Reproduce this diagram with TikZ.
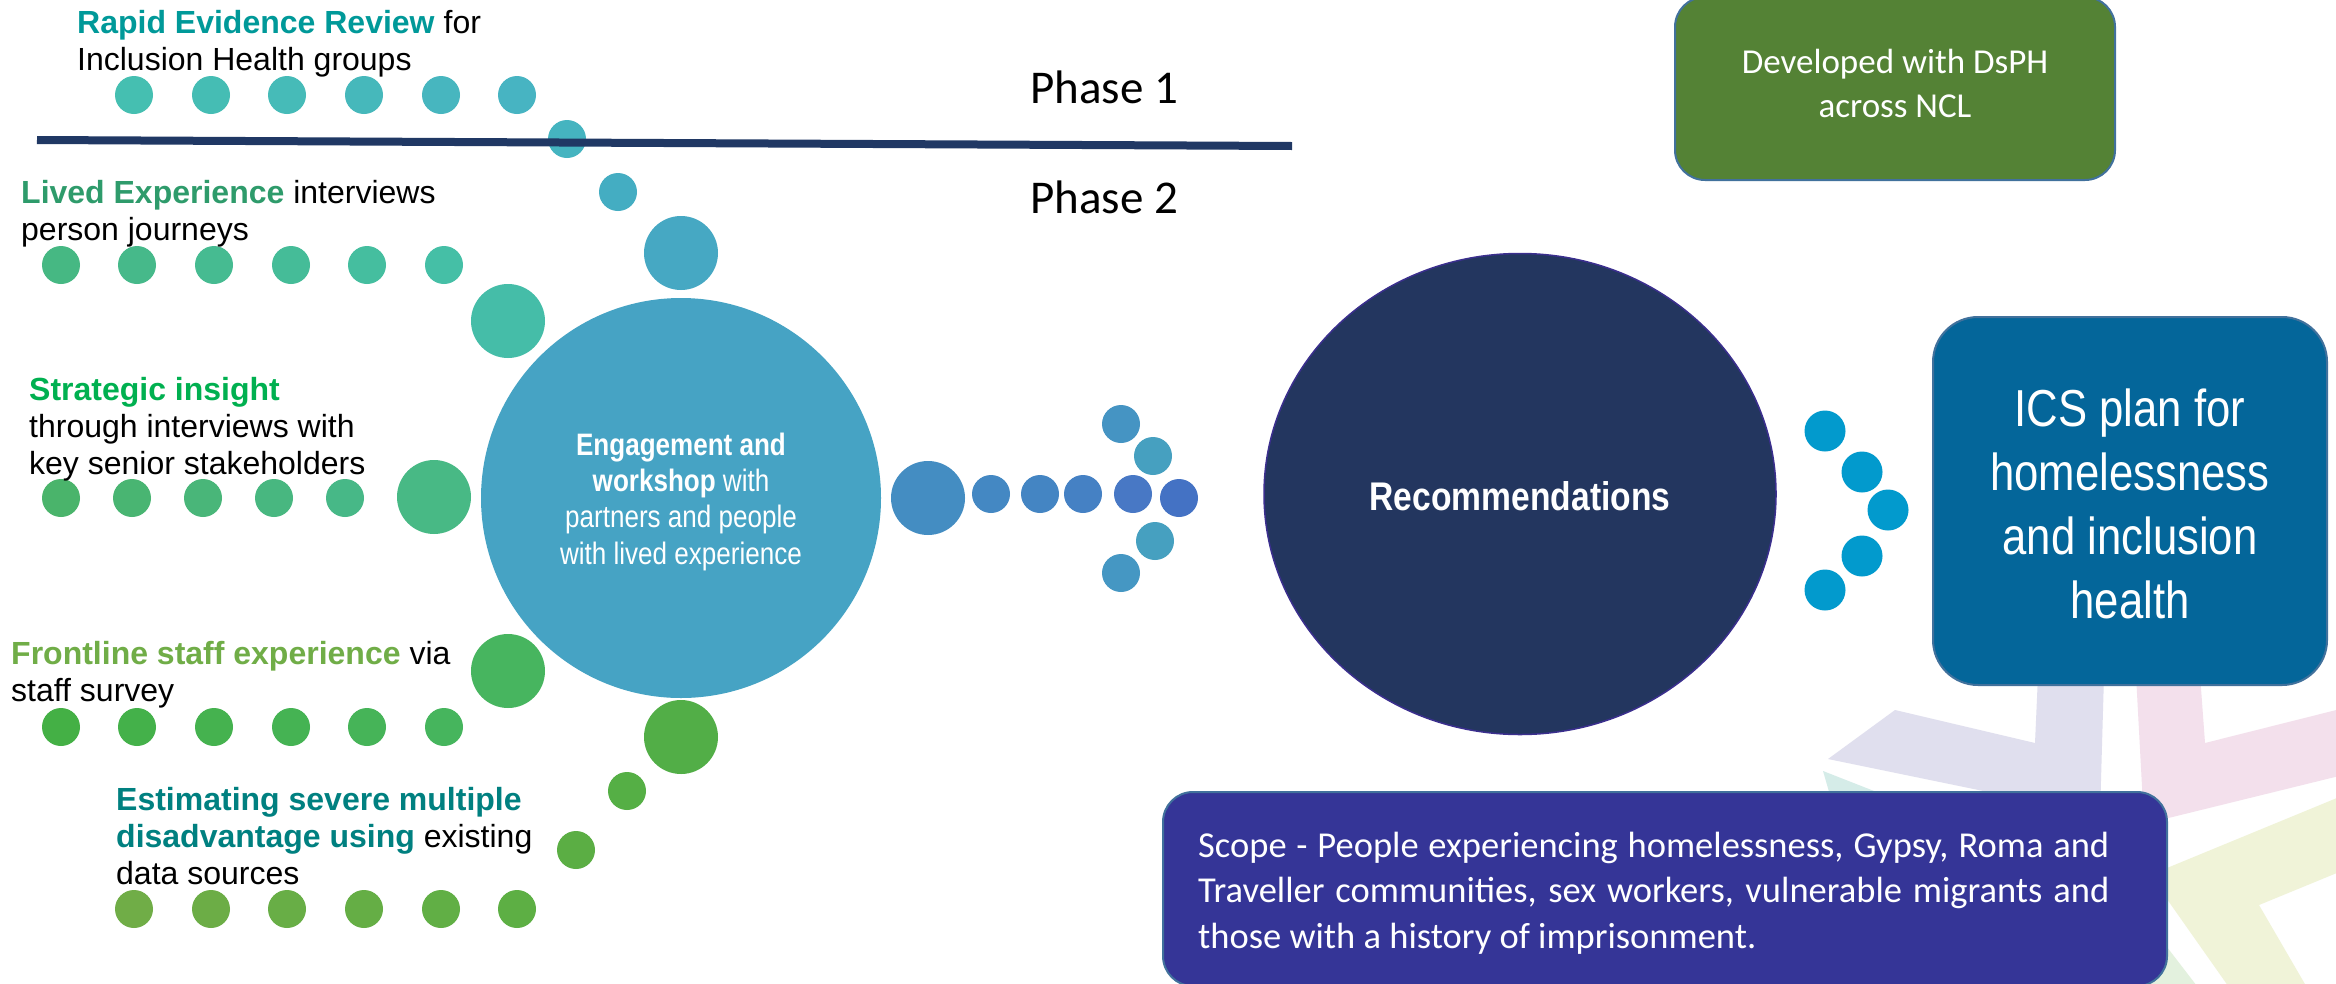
\documentclass[tikz,border=0pt]{standalone}
\usepackage{fontspec}
\usetikzlibrary{shapes.geometric}
\newfontfamily\arialfont{Liberation Sans}
\newfontfamily\narrowfont[FakeStretch=0.84]{Liberation Sans}
\newfontfamily\calibrifont{Carlito}

% dot rows (start / end of each colour run)
\definecolor{rAstart}{HTML}{45BFB1}\definecolor{rAend}{HTML}{47B4C2}
\definecolor{rBstart}{HTML}{46B883}\definecolor{rBend}{HTML}{45BFA6}
\definecolor{rCstart}{HTML}{4AB46B}\definecolor{rCend}{HTML}{47B887}
\definecolor{rDstart}{HTML}{44B045}\definecolor{rDend}{HTML}{46B55D}
\definecolor{rEstart}{HTML}{70AD47}\definecolor{rEend}{HTML}{5DAF44}
% labels
\definecolor{cRapid}{HTML}{009999}
\definecolor{cLived}{HTML}{2E9B6B}
\definecolor{cStrat}{HTML}{00B050}
\definecolor{cFront}{HTML}{70AD47}
\definecolor{cEst}{HTML}{008080}
% shapes
\definecolor{engfill}{HTML}{46A3C4}
\definecolor{recfill}{HTML}{23365F}
\definecolor{recedge}{HTML}{3B2F8E}
\definecolor{phaseline}{HTML}{203864}
\definecolor{paneledge}{HTML}{41719C}
\definecolor{devgreen}{HTML}{548235}
\definecolor{icsblue}{HTML}{04669A}
\definecolor{scopeblue}{HTML}{353597}
\definecolor{icsdotc}{HTML}{029ACD}
% logo chevrons
\definecolor{chLav}{HTML}{E0DFEE}
\definecolor{chPink}{HTML}{F3E0EC}
\definecolor{chYel}{HTML}{F0F3D8}
\definecolor{chMint}{HTML}{D5ECE8}
\definecolor{chGreen}{HTML}{E3F1DE}

\begin{document}
\begin{tikzpicture}[x=1pt,y=-1pt,
  dot/.style={circle, inner sep=0pt, minimum size=38pt},
  bigdot/.style={circle, inner sep=0pt, minimum size=74pt},
  icsdot/.style={circle, inner sep=0pt, minimum size=41pt, fill=icsdotc},
  lbl/.style={anchor=north west, inner sep=0pt, align=left, text=black,
              font=\arialfont\fontsize{32}{37}\selectfont},
  panel/.style={rectangle, inner sep=0pt, draw=paneledge, line width=2pt},
  whitetxt/.style={inner sep=0pt, text=white}
]
\useasboundingbox (0,0) rectangle (2336,983);
\fill[white] (0,0) rectangle (2336,983);

% faint chevrons of the logo, partly hidden behind the panels
\begin{scope}
  \clip (0,0) rectangle (2336,983);
  \fill[chLav] (2038,675) -- (2035,743) -- (1895,710) -- (1828,759)
               -- (2100,815) -- (2104,675) -- cycle;
  \fill[chPink] (2136,675) -- (2144,824) -- (2400,761) -- (2400,694)
               -- (2205,743) -- (2200,675) -- cycle;
  \fill[chYel] (2150,875) -- (2400,772) -- (2400,847) -- (2259,905)
               -- (2320,1010) -- (2245,1010) -- cycle;
  \fill[chMint] (1823,771) -- (1920,809) -- (1834,809) -- cycle;
  \fill[chGreen] (2150,925) -- (2200,990) -- (2150,990) -- cycle;
\end{scope}

% rows of dots feeding the workshop
\foreach \i/\x in {0/134,1/211,2/287,3/364,4/441,5/517}{
  \pgfmathtruncatemacro\p{\i*20}
  \node[dot, fill=rAend!\p!rAstart] (ra\i) at (\x,95) {};
}
\foreach \i/\x in {0/61,1/137,2/214,3/291,4/367,5/444}{
  \pgfmathtruncatemacro\p{\i*20}
  \node[dot, fill=rBend!\p!rBstart] (rb\i) at (\x,265) {};
}
\foreach \i/\x in {0/61,1/132,2/203,3/274,4/345}{
  \pgfmathtruncatemacro\p{\i*25}
  \node[dot, fill=rCend!\p!rCstart] (rc\i) at (\x,498) {};
}
\foreach \i/\x in {0/61,1/137,2/214,3/291,4/367,5/444}{
  \pgfmathtruncatemacro\p{\i*20}
  \node[dot, fill=rDend!\p!rDstart] (rd\i) at (\x,727) {};
}
\foreach \i/\x in {0/134,1/211,2/287,3/364,4/441,5/517}{
  \pgfmathtruncatemacro\p{\i*20}
  \node[dot, fill=rEend!\p!rEstart] (re\i) at (\x,909) {};
}

% arc of dots around the workshop circle
\node[dot, fill={rgb,255:red,69;green,180;blue,192}] (arc1) at (567,139) {};
\node[dot, fill={rgb,255:red,68;green,173;blue,194}] (arc2) at (618,192) {};
\node[bigdot, fill={rgb,255:red,70;green,168;blue,195}] (arc3) at (681,253) {};
\node[bigdot, fill={rgb,255:red,69;green,189;blue,168}] (arc4) at (508,321) {};
\node[bigdot, fill={rgb,255:red,72;green,185;blue,133}] (arc5) at (434,497) {};
\node[bigdot, fill={rgb,255:red,71;green,181;blue,95}] (arc6) at (508,671) {};
\node[bigdot, fill={rgb,255:red,82;green,174;blue,71}] (arc7) at (681,737) {};
\node[dot, fill={rgb,255:red,85;green,175;blue,69}] (arc8) at (627,791) {};
\node[dot, fill={rgb,255:red,91;green,174;blue,68}] (arc9) at (576,850) {};

% workshop circle
\node[circle, inner sep=0pt, minimum size=400pt, fill=engfill] (eng) at (681,498) {};

% phase divider
\coordinate (ph0) at (37,140);
\coordinate (ph1) at (1292,146);
\draw[phaseline, line width=8pt] (ph0) -- (ph1);

% dotted arrow towards the recommendations
\node[bigdot, fill={rgb,255:red,68;green,141;blue,194}] (ar0) at (928,498) {};
\node[dot, fill={rgb,255:red,68;green,136;blue,195}] (ar1) at (991,494) {};
\node[dot, fill={rgb,255:red,68;green,133;blue,195}] (ar2) at (1040,494) {};
\node[dot, fill={rgb,255:red,69;green,129;blue,196}] (ar3) at (1083,494) {};
\node[dot, fill={rgb,255:red,72;green,120;blue,197}] (ar4) at (1133,494) {};
\node[dot, fill={rgb,255:red,68;green,114;blue,196}] (ar5) at (1179,498) {};
\node[dot, fill={rgb,255:red,69;green,148;blue,195}] (au1) at (1121,424) {};
\node[dot, fill={rgb,255:red,70;green,160;blue,192}] (au2) at (1153,456) {};
\node[dot, fill={rgb,255:red,70;green,160;blue,192}] (ad2) at (1155,541) {};
\node[dot, fill={rgb,255:red,69;green,151;blue,195}] (ad1) at (1121,573) {};

% recommendations
\node[ellipse, inner sep=0pt, minimum width=512pt, minimum height=481pt,
      fill=recfill, draw=recedge, line width=1.5pt] (rec) at (1520,494) {};

% arrow of dots towards the plan
\node[icsdot] (id1) at (1825,431) {};
\node[icsdot] (id2) at (1862,472) {};
\node[icsdot] (id3) at (1888,510) {};
\node[icsdot] (id4) at (1862,556) {};
\node[icsdot] (id5) at (1825,590) {};

% panels
\node[panel, fill=devgreen, rounded corners=30pt, minimum width=440pt,
      minimum height=183pt] (dev) at (1895,88.5) {};
\node[panel, fill=icsblue, rounded corners=45pt, minimum width=394pt,
      minimum height=368pt] (ics) at (2130,501) {};
\node[panel, fill=scopeblue, rounded corners=30pt, minimum width=1004pt,
      minimum height=194pt] (scope) at (1665,889) {};

% source labels
\node[lbl] (txtA) at (77,7) {\rule{0pt}{26pt}\textcolor{cRapid}{\textbf{Rapid Evidence Review}} for\\Inclusion Health groups};
\node[lbl] (txtB) at (21,177) {\rule{0pt}{26pt}\textcolor{cLived}{\textbf{Lived Experience}} interviews\\person journeys};
\node[lbl] (txtC) at (29,374) {\rule{0pt}{26pt}\textcolor{cStrat}{\textbf{Strategic insight}}\\through interviews with\\key senior stakeholders};
\node[lbl] (txtD) at (11,638) {\rule{0pt}{26pt}\textcolor{cFront}{\textbf{Frontline staff experience}} via\\staff survey};
\node[lbl] (txtE) at (116,784) {\rule{0pt}{26pt}\textcolor{cEst}{\textbf{Estimating severe multiple}}\\\textcolor{cEst}{\textbf{disadvantage using}} existing\\data sources};

% phase labels
\node[anchor=base west, inner sep=0pt, font=\calibrifont\fontsize{47}{47}\selectfont] (ph1txt) at (1030,103) {Phase 1};
\node[anchor=base west, inner sep=0pt, font=\calibrifont\fontsize{47}{47}\selectfont] (ph2txt) at (1030,213) {Phase 2};

% texts in the circles and panels
\node[whitetxt, anchor=north, align=center, font=\narrowfont\fontsize{31}{36.3}\selectfont] (engtxt) at (681,430)
  {\rule{0pt}{25pt}\textbf{Engagement and}\\\textbf{workshop} with\\partners and people\\with lived experience};
\node[whitetxt, anchor=base, font=\narrowfont\bfseries\fontsize{40}{40}\selectfont] (rectxt) at (1520,510) {Recommendations};
\node[whitetxt, anchor=north, align=center, font=\narrowfont\fontsize{52}{64}\selectfont] (icstxt) at (2130,384)
  {\rule{0pt}{42pt}ICS plan for\\homelessness\\and inclusion\\health};
\node[whitetxt, anchor=north, align=center, font=\calibrifont\fontsize{35}{44}\selectfont] (devtxt) at (1895,45)
  {\rule{0pt}{28pt}Developed with DsPH\\across NCL};
\node[whitetxt, anchor=north west, text width=911pt, align=justify,
      font=\calibrifont\fontsize{36.5}{45.5}\selectfont] (scopetxt) at (1198,828)
  {\tolerance=10000\hbadness=10000\rule{0pt}{29pt}Scope - People experiencing homelessness, Gypsy, Roma and\linebreak
   Traveller communities, sex workers, vulnerable migrants and\linebreak
   those with a history of imprisonment.};
\end{tikzpicture}
\end{document}
